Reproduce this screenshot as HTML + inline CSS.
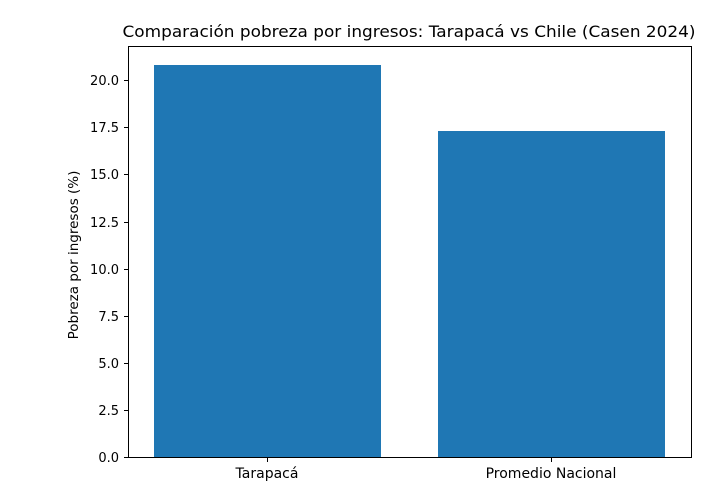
<!DOCTYPE html>
<html><head><meta charset="utf-8"><style>html,body{margin:0;padding:0;background:#fff;}</style></head>
<body>
<svg width="723" height="492" xmlns="http://www.w3.org/2000/svg" font-family="DejaVu Sans, Liberation Sans, sans-serif" font-size="13" fill="#000">
<rect width="723" height="492" fill="#fff"/>
<rect x="154" y="65" width="227" height="392" fill="#1f77b4"/>
<rect x="438" y="131" width="227" height="326" fill="#1f77b4"/>
<rect x="128.5" y="46.5" width="563" height="411" fill="none" stroke="#000" stroke-width="1"/>
<g stroke="#000" stroke-width="1">
<line x1="124" x2="128" y1="457.5" y2="457.5"/>
<line x1="124" x2="128" y1="410.5" y2="410.5"/>
<line x1="124" x2="128" y1="363.5" y2="363.5"/>
<line x1="124" x2="128" y1="316.5" y2="316.5"/>
<line x1="124" x2="128" y1="269.5" y2="269.5"/>
<line x1="124" x2="128" y1="222.5" y2="222.5"/>
<line x1="124" x2="128" y1="174.5" y2="174.5"/>
<line x1="124" x2="128" y1="127.5" y2="127.5"/>
<line x1="124" x2="128" y1="80.5" y2="80.5"/>
<line x1="267.5" x2="267.5" y1="458" y2="462"/>
<line x1="551.5" x2="551.5" y1="458" y2="462"/>
</g>
<g text-anchor="end">
<text x="119" y="462">0.0</text>
<text x="119" y="415">2.5</text>
<text x="119" y="368">5.0</text>
<text x="119" y="321">7.5</text>
<text x="119" y="274">10.0</text>
<text x="119" y="227">12.5</text>
<text x="119" y="179">15.0</text>
<text x="119" y="132">17.5</text>
<text x="119" y="85">20.0</text>
</g>
<g text-anchor="middle">
<text x="267" y="478" font-size="14">Tarapacá</text>
<text x="551" y="478" font-size="14">Promedio Nacional</text>
<text x="409" y="37" font-size="16" textLength="573" lengthAdjust="spacingAndGlyphs">Comparación pobreza por ingresos: Tarapacá vs Chile (Casen 2024)</text>
<text transform="translate(78,255) rotate(-90)" font-size="13.5">Pobreza por ingresos (%)</text>
</g>
</svg>
</body></html>
